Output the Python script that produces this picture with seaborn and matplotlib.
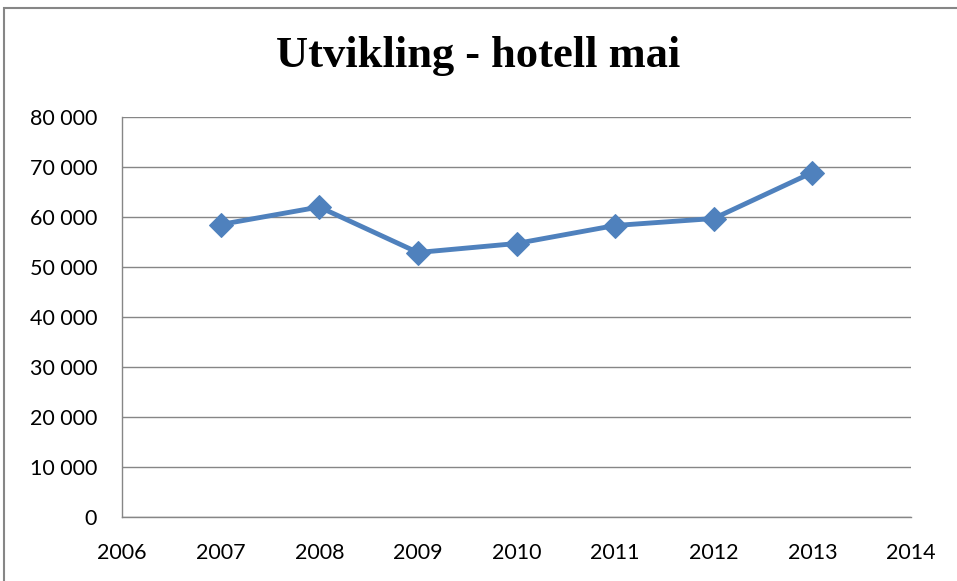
import matplotlib
import matplotlib.pyplot as plt
import pandas as pd
import seaborn as sns
from matplotlib.patches import Rectangle
from matplotlib.ticker import FuncFormatter, MultipleLocator

matplotlib.use("Agg")

years = [2007, 2008, 2009, 2010, 2011, 2012, 2013]
guests = [58500, 62000, 52900, 54700, 58300, 59700, 68900]
title = "Utvikling - hotell mai"

df = pd.DataFrame({"year": years, "guests": guests})

sns.set_theme(style="white")
plt.rcParams["font.family"] = ["Lato", "DejaVu Sans"]

fig = plt.figure(figsize=(9.57, 5.81), dpi=100)
ax = fig.add_axes([122 / 957, 1 - 517 / 581, (911 - 122) / 957, 400 / 581])

sns.lineplot(data=df, x="year", y="guests", ax=ax, color="#4F81BD", linewidth=3.5,
             marker="D", markersize=12.5, markeredgecolor="#4F81BD")

ax.set_xlim(2006, 2014)
ax.set_ylim(0, 80000)
ax.xaxis.set_major_locator(MultipleLocator(1))
ax.yaxis.set_major_locator(MultipleLocator(10000))
ax.yaxis.set_major_formatter(FuncFormatter(lambda v, _: f"{int(v):,}".replace(",", " ")))
ax.grid(axis="y", color="#868686", linewidth=1)
ax.set_axisbelow(True)
for side in ["top", "right"]:
    ax.spines[side].set_visible(False)
for side in ["left", "bottom"]:
    ax.spines[side].set_color("#868686")
    ax.spines[side].set_linewidth(1)
ax.tick_params(axis="y", length=0, pad=18, labelsize=15.5, colors="black")
ax.tick_params(axis="x", length=0, pad=19, labelsize=15.5, colors="black")
ax.set_xlabel("")
ax.set_ylabel("")

fig.text(0.5, 1 - 56 / 581, title, ha="center", va="center", fontsize=32,
         fontweight="bold", color="black", family=["Liberation Serif", "DejaVu Serif"])

# chart frame
fig.patches.append(Rectangle((4 / 957, -0.01), 1.02, 1 - 8 / 581 + 0.01,
                             transform=fig.transFigure, fill=False,
                             edgecolor="#868686", linewidth=1.5))

fig.savefig("out.png", dpi=100)
